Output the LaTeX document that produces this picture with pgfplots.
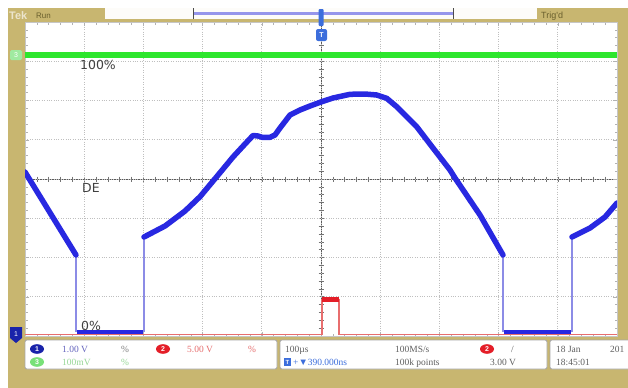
\documentclass[border=0pt]{standalone}
\usepackage{pgfplots}
\pgfplotsset{compat=1.18}
\usepackage{fontspec}
\setmainfont{Liberation Serif}
\newfontfamily\lsans{Liberation Sans}
\newfontfamily\dsans{DejaVu Sans}
\definecolor{scopetan}{RGB}{200,182,112}
\definecolor{trblue}{RGB}{40,40,225}
\definecolor{thinblue}{RGB}{140,140,230}
\definecolor{trgreen}{RGB}{45,230,45}
\definecolor{trred}{RGB}{228,30,40}
\definecolor{lred}{RGB}{232,110,110}
\definecolor{chblue}{RGB}{25,35,170}
\definecolor{mkblue}{RGB}{60,110,220}
\definecolor{chgreen}{RGB}{120,225,120}
\definecolor{txgray}{RGB}{95,95,95}
\definecolor{txblue}{RGB}{100,100,190}
\definecolor{txred}{RGB}{230,110,110}
\definecolor{txgreen}{RGB}{150,215,150}
\definecolor{olive}{RGB}{105,95,45}
\definecolor{lavender}{RGB}{150,150,235}
\begin{document}
\begin{tikzpicture}
\begin{scope}[x=1bp,y=-1bp]
\fill[white] (0,0) rectangle (628,388);
\fill[scopetan] (8,8) rectangle (628,388);
\fill[white] (25,22) rectangle (617,336);
% crosshair
\draw[black!65,line width=0.8bp] (25,179)--(617,179) (321,22)--(321,336);
\foreach \i in {0,...,50} \draw[black!55,line width=0.6bp] ({25+\i*11.84},176.5)--++(0,5);
\foreach \i in {0,...,40} \draw[black!55,line width=0.6bp] (318.5,{22+\i*7.85})--++(5,0);
\end{scope}

\begin{axis}[at={(25bp,-336bp)}, anchor=south west, scale only axis,
  width=592bp, height=314bp,
  xmin=25, xmax=617, ymin=22, ymax=336, y dir=reverse,
  xtick={25,84.2,143.4,202.6,261.8,321,380.2,439.4,498.6,557.8,617},
  ytick={22,61.25,100.5,139.75,179,218.25,257.5,296.75,336},
  minor x tick num=4, minor y tick num=4,
  xticklabels={}, yticklabels={},
  grid=major, major grid style={gray!50, dotted, line width=0.7bp},
  tick align=inside, major tick length=4bp, minor tick length=2.5bp,
  every tick/.style={gray!60, line width=0.5bp},
  axis line style={gray!45}]
% channel 2 (red)
\addplot[lred, line width=1.3bp] coordinates {(25,334.5) (322,334.5) (322,300) (339,300) (339,334.5) (617,334.5)};
\addplot[trred, line width=4.5bp] coordinates {(322,299.5) (339,299.5)};
% channel 3 (green)
\addplot[trgreen, line width=5.5bp] coordinates {(25,55) (617,55)};
% channel 1 (blue) thin edges
\addplot[thinblue, line width=1.3bp] coordinates {(76,255) (76,332)};
\addplot[thinblue, line width=1.3bp] coordinates {(144,332) (144,237)};
\addplot[thinblue, line width=1.3bp] coordinates {(503,255) (503,332)};
\addplot[thinblue, line width=1.3bp] coordinates {(572,332) (572,237)};
% channel 1 thick trace
\addplot[trblue, line width=5.5bp, line join=round, line cap=round] coordinates {(25,172) (76,255)};
\addplot[trblue, line width=4.5bp, line join=round] coordinates {(77,332) (143,332)};
\addplot[trblue, line width=5.5bp, line join=round, line cap=round] coordinates {
(144,237) (165,226) (185,211) (200,196.7) (216.7,176.7) (233,157) (245,144)
(253,135.5) (258,136) (262,137.3) (270,137.3) (275,135) (280,128) (290,115)
(300,110) (310,106) (321.7,101.7) (333,98) (350,94.3) (365,94) (376.7,95)
(386.7,98.3) (396.7,106.7) (416.7,126.7) (433,148) (450,170) (455,178)
(480,215) (503,255)};
\addplot[trblue, line width=4.5bp, line join=round] coordinates {(504,332) (571,332)};
\addplot[trblue, line width=5.5bp, line join=round, line cap=round] coordinates {(572,237) (590,228) (605,217) (617,203)};
\end{axis}

\begin{scope}[x=1bp,y=-1bp]
% labels in graticule
\node[anchor=base west, inner sep=0pt, text=black!75, font=\dsans\fontsize{12.5}{13}\selectfont] at (80,69) {100\%};
\node[anchor=base west, inner sep=0pt, text=black!75, font=\dsans\fontsize{12.5}{13}\selectfont] at (82,192) {DE};
\node[anchor=base west, inner sep=0pt, text=black!75, font=\dsans\fontsize{12.5}{13}\selectfont] at (81,330) {0\%};
% left markers
\fill[chgreen!70!white, rounded corners=1.5bp] (10,50) rectangle (22,60);
\node[text=white, font=\lsans\fontsize{7}{7}\selectfont, inner sep=0pt] at (16,55) {3};
\fill[chblue] (10,327) -- (22,327) -- (22,338) -- (16,343) -- (10,338) -- cycle;
\node[text=white, font=\lsans\fontsize{7}{7}\selectfont, inner sep=0pt] at (16,334) {1};
% top status bar
\node[anchor=base west, inner sep=0pt, text=white!65!scopetan, font=\lsans\bfseries\fontsize{11}{11}\selectfont] at (9,19) {Tek};
\node[anchor=base west, inner sep=0pt, text=olive, font=\lsans\fontsize{8}{8}\selectfont] at (36,18) {Run};
\fill[white!96!scopetan] (105,8) rectangle (537,18.5);
\fill[lavender] (193,11.5) rectangle (453,15);
\draw[black!70, line width=0.8bp] (193,8)--(193,19) (453,8)--(453,19);
\node[anchor=base west, inner sep=0pt, text=olive, font=\lsans\fontsize{9}{9}\selectfont] at (541,18) {Trig'd};
\fill[mkblue, rounded corners=1bp] (318.5,9) rectangle (323.5,26);
\fill[mkblue, rounded corners=2bp] (316,29) rectangle (327,41);
\node[text=white, font=\lsans\bfseries\fontsize{7}{7}\selectfont, inner sep=0pt] at (321.5,35) {T};
% bottom boxes
\filldraw[fill=white, draw=gray!70, rounded corners=2bp, line width=0.8bp] (25,340) rectangle (277,369);
\filldraw[fill=white, draw=gray!70, rounded corners=2bp, line width=0.8bp] (280,340) rectangle (547,369);
\filldraw[fill=white, draw=gray!70, rounded corners=2bp, line width=0.8bp] (550,340) rectangle (640,369);
\tikzset{inf/.style={anchor=base west, inner sep=0pt, font=\fontsize{9.5}{10}\selectfont}}
% row 1 left box
\fill[chblue] (37,349) ellipse (7bp and 4.8bp);
\node[text=white, font=\lsans\bfseries\fontsize{7}{7}\selectfont, inner sep=0pt] at (37,349) {1};
\node[inf, text=txblue] at (62,352.5) {1.00 V};
\node[inf, text=gray] at (121,352.5) {\%};
\fill[trred] (163,349) ellipse (7bp and 4.8bp);
\node[text=white, font=\lsans\bfseries\fontsize{7}{7}\selectfont, inner sep=0pt] at (163,349) {2};
\node[inf, text=txred] at (187,352.5) {5.00 V};
\node[inf, text=txred] at (248,352.5) {\%};
% row 2 left box
\fill[chgreen] (37,362) ellipse (7bp and 4.8bp);
\node[text=white, font=\lsans\bfseries\fontsize{7}{7}\selectfont, inner sep=0pt] at (37,362) {3};
\node[inf, text=txgreen] at (62,365.5) {100mV};
\node[inf, text=txgreen] at (121,365.5) {\%};
% middle box
\node[inf, text=txgray] at (285,352.5) {100\textmu s};
\node[inf, text=txgray] at (395,352.5) {100MS/s};
\fill[trred] (487,349) ellipse (7bp and 4.8bp);
\node[text=white, font=\lsans\bfseries\fontsize{7}{7}\selectfont, inner sep=0pt] at (487,349) {2};
\node[inf, text=txgray] at (511,352.5) {/};
\fill[mkblue] (284,358) rectangle (291,366);
\node[text=white, font=\lsans\bfseries\fontsize{6}{6}\selectfont, inner sep=0pt] at (287.5,362) {T};
\node[inf, text=mkblue] at (293,365.5) {+▼390.000ns};
\node[inf, text=txgray] at (395,365.5) {100k points};
\node[inf, text=txgray] at (490,365.5) {3.00 V};
% right box
\node[inf, text=txgray] at (556,352.5) {18 Jan};
\node[inf, text=txgray] at (610,352.5) {201};
\node[inf, text=txgray] at (556,365.5) {18:45:01};
\end{scope}
\pgfresetboundingbox
\useasboundingbox (0,0) rectangle (628bp,-388bp);
\end{tikzpicture}
\end{document}
